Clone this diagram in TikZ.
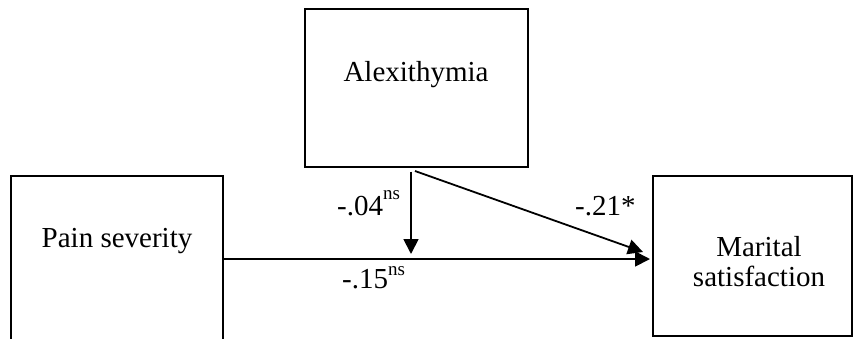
\documentclass[tikz,border=0pt]{standalone}
\usepackage{fontspec}
\setmainfont{Liberation Serif}
\usetikzlibrary{arrows.meta}
\tikzset{
  box/.style={draw=black, line width=2pt, rectangle, inner sep=0pt},
  txt/.style={inner sep=0pt, font=\fontsize{29}{32}\selectfont, align=center},
  lbl/.style={inner sep=0pt, font=\fontsize{29}{32}\selectfont, anchor=base west},
  arr/.style={line width=1.8pt, -{Triangle[length=15pt,width=15pt]}}
}
\newcommand{\supns}[1]{\raisebox{#1}{\fontsize{19}{19}\selectfont ns}}
\begin{document}
\begin{tikzpicture}[x=1pt,y=-1pt]
\useasboundingbox (0,0) rectangle (856,338);
\fill[white] (0,0) rectangle (856,338);
\clip (0,0) rectangle (856,338);
% boxes
\node[box, minimum width=212pt, minimum height=194pt] (pain) at (117,273) {};
\node[box, minimum width=223pt, minimum height=158pt] (alex) at (416.5,88) {};
\node[box, minimum width=199pt, minimum height=160pt] (marital) at (752.5,256) {};
% texts
\node[txt] (paintxt) at (117,241) {Pain severity};
\node[txt] (alextxt) at (416,75) {Alexithymia};
\node[txt] (maritaltxt) at (759,262) {Marital\\[-2pt]satisfaction};
% connectors
\coordinate (mod) at (411,259);
\draw[arr] ([yshift=-3pt]pain.east |- marital.west) -- ([xshift=-2pt,yshift=-3pt]marital.west);
\draw[arr] ([xshift=-5.5pt,yshift=-3.5pt]alex.south) -- ([yshift=5pt]mod);
\draw[arr] ([xshift=-1.5pt,yshift=-3pt]alex.south) -- ([xshift=-9pt,yshift=4pt]marital.west);
% labels
\node[lbl] (l1) at (337,215) {-.04\supns{15.5pt}};
\node[lbl] (l2) at (575,215) {-.21*};
\node[lbl] (l3) at (342,288) {-.15\supns{13pt}};
\end{tikzpicture}
\end{document}
